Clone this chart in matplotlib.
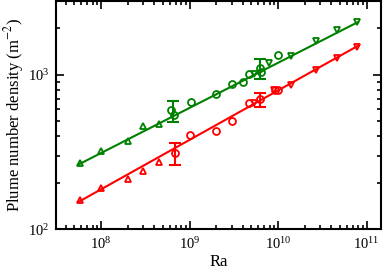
import numpy as np
import matplotlib.pyplot as plt

# green series (upper)
g_up_ra = [5.8e7, 1.0e8, 2.0e8, 3.0e8, 4.5e8]
g_up_n = [268, 321, 373, 467, 481]
g_circ_ra = [6.2e8, 6.6e8, 1.05e9, 2.0e9, 3.0e9, 4.0e9, 4.65e9, 6.2e9, 6.4e9, 1.0e10]
g_circ_n = [593, 550, 665, 750, 875, 902, 1019, 1100, 1050, 1350]
g_dn_ra = [5.4e9, 7.9e9, 1.4e10, 2.7e10, 4.6e10, 7.8e10]
g_dn_n = [1014, 1190, 1316, 1645, 1938, 2183]
g_err_ra = [6.5e8, 6.3e9]
g_err_n = [585, 1085]
g_err_lo = [493, 937]
g_err_hi = [681, 1260]

# red series (lower)
r_up_ra = [5.8e7, 1.0e8, 2.0e8, 3.0e8, 4.5e8]
r_up_n = [155, 186, 211, 239, 274]
r_circ_ra = [6.8e8, 1.0e9, 2.0e9, 3.0e9, 4.65e9, 6.3e9, 9.3e9, 1.0e10]
r_circ_n = [313, 406, 431, 506, 656, 700, 800, 794]
r_dn_ra = [5.4e9, 9.0e9, 1.4e10, 2.7e10, 4.6e10, 7.8e10]
r_dn_n = [656, 800, 865, 1077, 1294, 1525]
r_err_ra = [6.8e8, 6.3e9]
r_err_n = [313, 690]
r_err_lo = [261, 617]
r_err_hi = [364, 767]

# power-law fits: n = A * Ra^beta
g_fit = (262, 0.292)
r_fit = (150, 0.320)
fit_ra0 = 5.5e7
fit_ra = [5.5e7, 8.0e10]

plt.rcParams['font.family'] = ['Liberation Serif', 'DejaVu Serif']
plt.rcParams['mathtext.fontset'] = 'stix'

fig = plt.figure(figsize=(3.84, 2.77), dpi=100)
ax = fig.add_axes([0.146, 0.172, 0.846, 0.824])

def draw(color, up_ra, up_n, circ_ra, circ_n, dn_ra, dn_n, e_ra, e_n, e_lo, e_hi, fit):
    ra = np.array(fit_ra)
    ax.plot(ra, fit[0] * (ra / fit_ra0) ** fit[1], color=color, lw=1.5, zorder=2)
    mk = dict(ls='none', mfc='none', mec=color, mew=1.3, ms=5, zorder=3)
    ax.plot(up_ra, up_n, marker='^', **mk)
    ax.plot(circ_ra, circ_n, marker='o', **mk)
    ax.plot(dn_ra, dn_n, marker='v', **mk)
    e_n = np.array(e_n)
    yerr = [e_n - np.array(e_lo), np.array(e_hi) - e_n]
    ax.errorbar(e_ra, e_n, yerr=yerr, fmt='none', ecolor=color,
                elinewidth=1.5, capsize=4, capthick=1.5, zorder=3)

draw('#008000', g_up_ra, g_up_n, g_circ_ra, g_circ_n, g_dn_ra, g_dn_n,
     g_err_ra, g_err_n, g_err_lo, g_err_hi, g_fit)
draw('#ff0000', r_up_ra, r_up_n, r_circ_ra, r_circ_n, r_dn_ra, r_dn_n,
     r_err_ra, r_err_n, r_err_lo, r_err_hi, r_fit)

ax.set_xscale('log'); ax.set_yscale('log')
ax.set_xlim(3.1e7, 1.45e11)
ax.set_ylim(100, 3000)
ax.set_xticks([1e8, 1e9, 1e10, 1e11])
ax.set_yticks([1e2, 1e3])
ax.tick_params(which='both', direction='in', top=True, right=True, labelsize=10.5, width=1.2)
ax.tick_params(which='major', length=6, pad=5)
ax.tick_params(which='minor', length=3)
for s in ax.spines.values():
    s.set_linewidth(1.5)

ax.set_xlabel('Ra', fontsize=12, labelpad=1)
ax.set_ylabel(r'Plume number density (m$^{-2}$)', fontsize=12, labelpad=1)

fig.savefig('out.png', dpi=100)
